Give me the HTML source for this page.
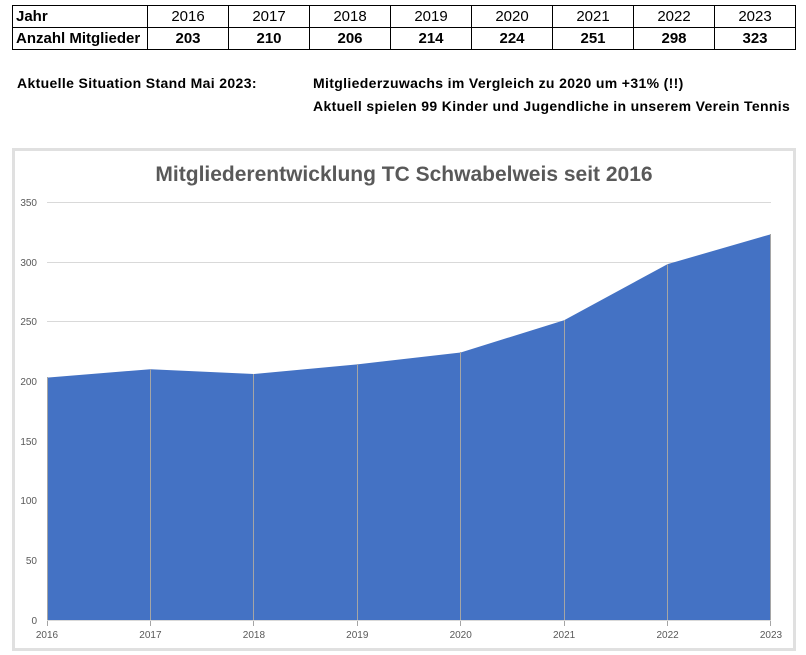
<!DOCTYPE html>
<html><head><style>
body{margin:0;width:806px;height:655px;background:#fff;font-family:"Liberation Sans",sans-serif;position:relative;overflow:hidden}
table{position:absolute;left:12px;top:5px;border-collapse:collapse;font-size:15px}
td{border:1px solid #000;height:21px;padding:0 3px;text-align:center;width:74px;line-height:21px}
td.h{text-align:left;width:128px;font-weight:bold}
tr.b td{font-weight:bold}
.t{position:absolute;font-weight:bold;font-size:14px;white-space:nowrap;letter-spacing:0.35px}
</style></head><body>
<table>
<tr><td class="h">Jahr</td><td>2016</td><td>2017</td><td>2018</td><td>2019</td><td>2020</td><td>2021</td><td>2022</td><td>2023</td></tr>
<tr class="b"><td class="h">Anzahl Mitglieder</td><td>203</td><td>210</td><td>206</td><td>214</td><td>224</td><td>251</td><td>298</td><td>323</td></tr>
</table>
<div class="t" style="left:17px;top:75px">Aktuelle Situation Stand Mai 2023:</div>
<div class="t" style="left:313px;top:75px">Mitgliederzuwachs im Vergleich zu 2020 um +31% (!!)</div>
<div class="t" style="left:313px;top:98px">Aktuell spielen 99 Kinder und Jugendliche in unserem Verein Tennis</div>
<svg style="position:absolute;left:0;top:0" width="806" height="655">
<rect x="13.5" y="149.5" width="781" height="500" fill="#fff" stroke="#e0e0e0" stroke-width="3"/>
<text x="404" y="181" text-anchor="middle" font-size="21" font-weight="bold" fill="#595959" font-family="Liberation Sans,sans-serif">Mitgliederentwicklung TC Schwabelweis seit 2016</text>
<g stroke="#d9d9d9" stroke-width="1">
<line x1="47" x2="771" y1="202.5" y2="202.5"/><line x1="47" x2="771" y1="262.5" y2="262.5"/><line x1="47" x2="771" y1="321.5" y2="321.5"/><line x1="47" x2="771" y1="381.5" y2="381.5"/><line x1="47" x2="771" y1="441.5" y2="441.5"/><line x1="47" x2="771" y1="500.5" y2="500.5"/><line x1="47" x2="771" y1="560.5" y2="560.5"/>
</g>
<polygon fill="#4472c4" points="47,620 47,377.6 150.4,369.2 253.9,374 357.3,364.4 460.7,352.5 564.1,320.2 667.6,264.1 771,234.2 771,620"/>
<g stroke="#a5a5a5" stroke-width="1">
<line x1="47.5" x2="47.5" y1="377" y2="626"/><line x1="150.5" x2="150.5" y1="369" y2="626"/><line x1="253.5" x2="253.5" y1="374" y2="626"/><line x1="357.5" x2="357.5" y1="364" y2="626"/><line x1="460.5" x2="460.5" y1="352" y2="626"/><line x1="564.5" x2="564.5" y1="320" y2="626"/><line x1="667.5" x2="667.5" y1="264" y2="626"/><line x1="770.5" x2="770.5" y1="234" y2="626"/>
</g>
<line x1="47" x2="771" y1="620.5" y2="620.5" stroke="#d9d9d9"/>
<g font-size="10" fill="#595959" text-anchor="end" font-family="Liberation Sans,sans-serif">
<text x="37" y="206">350</text><text x="37" y="266">300</text><text x="37" y="325">250</text><text x="37" y="385">200</text><text x="37" y="445">150</text><text x="37" y="504">100</text><text x="37" y="564">50</text><text x="37" y="624">0</text>
</g>
<g font-size="10" fill="#595959" text-anchor="middle" font-family="Liberation Sans,sans-serif">
<text x="47" y="638">2016</text><text x="150.4" y="638">2017</text><text x="253.9" y="638">2018</text><text x="357.3" y="638">2019</text><text x="460.7" y="638">2020</text><text x="564.1" y="638">2021</text><text x="667.6" y="638">2022</text><text x="771" y="638">2023</text>
</g>
</svg>
</body></html>
